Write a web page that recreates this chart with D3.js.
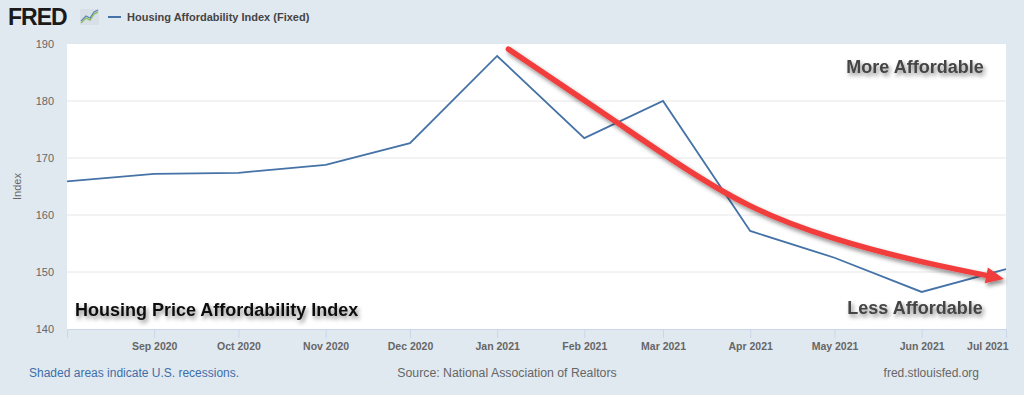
<!DOCTYPE html>
<html>
<head>
<meta charset="utf-8">
<script src="https://cdn.jsdelivr.net/npm/d3@7"></script>
<style>
  body { margin: 0; background: #e1e9f0; }
  svg { display: block; font-family: "Liberation Sans", Arial, sans-serif; }
</style>
</head>
<body>
<div id="vis"></div>
<script>
// series
var months = ['2020-08','2020-09','2020-10','2020-11','2020-12','2021-01',
              '2021-02','2021-03','2021-04','2021-05','2021-06','2021-07'];
var values = [165.9, 167.2, 167.4, 168.8, 172.6, 187.9,
              173.5, 180.0, 157.2, 152.5, 146.5, 150.5];
var yTicks = [140, 150, 160, 170, 180, 190];

// hand drawn trend arrow, in data units
var arrowDates = ['2021-01-05','2021-02-14','2021-03-03','2021-03-31','2021-05-01','2021-05-31','2021-06-24'];
var arrowVals  = [189.1, 175.8, 170.0, 161.2, 155.6, 151.8, 149.4];

var width = 1024, height = 395;
var margin = { left: 67, right: 18, top: 44, bottom: 66 };

var parse = d3.timeParse('%Y-%m-%d');
var data = months.map(function (m, i) { return { date: parse(m + '-01'), value: values[i] }; });
var arrow = arrowDates.map(function (d, i) { return { date: parse(d), value: arrowVals[i] }; });

var svg = d3.select('#vis').append('svg')
  .attr('width', width)
  .attr('height', height);

var defs = svg.append('defs');
var shadow = defs.append('filter').attr('id', 'shadow')
  .attr('x', '-10%').attr('y', '-30%').attr('width', '130%').attr('height', '180%');
shadow.append('feDropShadow')
  .attr('dx', 2).attr('dy', 3).attr('stdDeviation', 2)
  .attr('flood-color', '#000').attr('flood-opacity', 0.45);

var x = d3.scaleTime()
  .domain([data[0].date, data[data.length - 1].date])
  .range([margin.left, width - margin.right]);
var y = d3.scaleLinear()
  .domain([140, 190])
  .range([height - margin.bottom, margin.top]);

// plot background
svg.append('rect')
  .attr('x', margin.left).attr('y', margin.top)
  .attr('width', width - margin.left - margin.right)
  .attr('height', height - margin.top - margin.bottom)
  .attr('fill', '#fff');

// grid
svg.append('g').selectAll('line')
  .data(yTicks.slice(1, -1))
  .enter().append('line')
  .attr('x1', margin.left).attr('x2', width - margin.right)
  .attr('y1', function (d) { return y(d); })
  .attr('y2', function (d) { return y(d); })
  .attr('stroke', '#e6e6e6');

// y axis labels
svg.append('g').selectAll('text')
  .data(yTicks)
  .enter().append('text')
  .attr('x', 54)
  .attr('y', function (d) { return y(d) + 4; })
  .attr('text-anchor', 'end')
  .style('font-size', '11px')
  .style('fill', '#666')
  .text(function (d) { return d; });

svg.append('text')
  .attr('transform', 'translate(21,' + (y(165) ) + ') rotate(-90)')
  .attr('text-anchor', 'middle')
  .style('font-size', '11px')
  .style('fill', '#666')
  .text('Index');

// x axis
var xAxis = d3.axisBottom(x)
  .tickValues(data.slice(1).map(function (d) { return d.date; }))
  .tickFormat(d3.timeFormat('%b %Y'))
  .tickSize(9)
  .tickPadding(5);

var gx = svg.append('g')
  .attr('transform', 'translate(0,' + (height - margin.bottom) + ')')
  .call(xAxis);
gx.select('.domain').attr('stroke', '#ccd6eb');
gx.selectAll('.tick line').attr('stroke', '#ccd6eb');
gx.selectAll('.tick text')
  .style('font-size', '10.5px')
  .style('font-family', '"Liberation Sans", Arial, sans-serif')
  .style('font-weight', 'bold')
  .style('fill', '#666');
gx.selectAll('.tick').filter(function (d, i, n) { return i === n.length - 1; })
  .select('text').attr('text-anchor', 'end').attr('dx', 2);

// series line
var line = d3.line()
  .x(function (d) { return x(d.date); })
  .y(function (d) { return y(d.value); });

svg.append('path')
  .datum(data)
  .attr('d', line)
  .attr('fill', 'none')
  .attr('stroke', '#4572a7')
  .attr('stroke-width', 1.8);

// red trend arrow
var arrowLine = d3.line()
  .curve(d3.curveBasis)
  .x(function (d) { return x(d.date); })
  .y(function (d) { return y(d.value); });

var ag = svg.append('g').attr('filter', 'url(#shadow)');
ag.append('path')
  .datum(arrow)
  .attr('d', arrowLine)
  .attr('fill', 'none')
  .attr('stroke', '#f23c3c')
  .attr('stroke-width', 5.5)
  .attr('stroke-linecap', 'round');

var pA = arrow[arrow.length - 2], pB = arrow[arrow.length - 1];
var ax = x(pB.date), ay = y(pB.value);
var ang = Math.atan2(ay - y(pA.value), ax - x(pA.date));
var head = [[18, 0], [0, -8], [0, 8]].map(function (p) {
  return [ax + p[0] * Math.cos(ang) - p[1] * Math.sin(ang),
          ay + p[0] * Math.sin(ang) + p[1] * Math.cos(ang)];
});
ag.append('path')
  .attr('d', 'M' + head.join('L') + 'Z')
  .attr('fill', '#f23c3c');

// annotations
function note(tx, ty, anchor, txt, fill) {
  svg.append('text')
    .attr('x', tx).attr('y', ty)
    .attr('text-anchor', anchor)
    .attr('filter', 'url(#shadow)')
    .style('font-size', '18px')
    .style('font-weight', 'bold')
    .style('fill', fill)
    .text(txt);
}
note(915, 73, 'middle', 'More Affordable', '#444');
note(915, 314, 'middle', 'Less Affordable', '#444');
note(75, 316, 'start', 'Housing Price Affordability Index', '#111');

// header
svg.append('text')
  .attr('x', 8).attr('y', 25)
  .style('font-size', '23px')
  .style('font-weight', 'bold')
  .style('letter-spacing', '-1px')
  .style('fill', '#1a1a1a')
  .text('FRED');
var icon = svg.append('g').attr('transform', 'translate(80,9)');
icon.append('rect').attr('width', 19).attr('height', 16).attr('fill', '#d8dfe6');
icon.append('path').attr('d', 'M1,14 L6,9 L10,11 L14,5 L18,3')
  .attr('fill', 'none').attr('stroke', '#8fbf5a').attr('stroke-width', 1.4);
icon.append('path').attr('d', 'M1,12 L6,7 L10,9 L14,3 L18,1')
  .attr('fill', 'none').attr('stroke', '#5a86b8').attr('stroke-width', 1.2);

svg.append('line')
  .attr('x1', 108).attr('x2', 121).attr('y1', 17).attr('y2', 17)
  .attr('stroke', '#4572a7').attr('stroke-width', 2);
svg.append('text')
  .attr('x', 127).attr('y', 21)
  .style('font-size', '11px')
  .style('font-weight', 'bold')
  .style('fill', '#444')
  .text('Housing Affordability Index (Fixed)');

// footer
svg.append('text')
  .attr('x', 29).attr('y', 377)
  .style('font-size', '12px')
  .style('fill', '#3e6ea8')
  .text('Shaded areas indicate U.S. recessions.');
svg.append('text')
  .attr('x', 507).attr('y', 377)
  .attr('text-anchor', 'middle')
  .style('font-size', '12.3px')
  .style('fill', '#666')
  .text('Source: National Association of Realtors');
svg.append('text')
  .attr('x', 979).attr('y', 377)
  .attr('text-anchor', 'end')
  .style('font-size', '12px')
  .style('fill', '#666')
  .text('fred.stlouisfed.org');
</script>
</body>
</html>
